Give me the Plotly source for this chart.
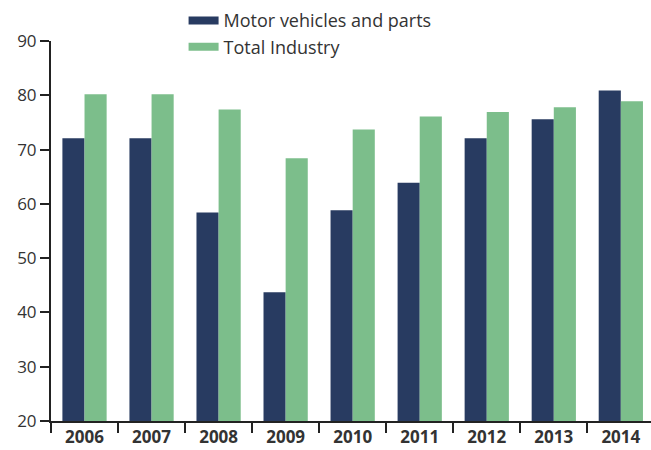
import plotly.graph_objects as go

# Values
years = ["2006", "2007", "2008", "2009", "2010", "2011", "2012", "2013", "2014"]
motor_vehicles = [72.1, 72.1, 58.4, 43.7, 58.8, 63.9, 72.1, 75.6, 80.9]
total_industry = [80.2, 80.2, 77.4, 68.4, 73.7, 76.1, 76.9, 77.8, 78.9]

NAVY = "#283b61"
GREEN = "#7cbe8b"
AXIS = "#222222"
TEXT = "#333333"

fig = go.Figure()

fig.add_trace(go.Bar(x=years, y=motor_vehicles, name="Motor vehicles and parts",
                     marker=dict(color=NAVY, line=dict(width=0)), showlegend=False))
fig.add_trace(go.Bar(x=years, y=total_industry, name="Total Industry",
                     marker=dict(color=GREEN, line=dict(width=0)), showlegend=False))

# legend entries drawn as thick lines to get wide, flat swatches
for name, color in [("Motor vehicles and parts", NAVY), ("Total Industry", GREEN)]:
    fig.add_trace(go.Scatter(x=[None], y=[None], mode="lines", name=name,
                             line=dict(color=color, width=8)))

fig.update_layout(
    width=651, height=450,
    margin=dict(l=51, r=0, t=41, b=29, autoexpand=False),
    paper_bgcolor="white", plot_bgcolor="white",
    barmode="group", bargap=0.34, bargroupgap=0,
    font=dict(family="Open Sans", color=TEXT, size=17),
    legend=dict(x=0.282, y=0.995, xref="container", yref="container",
                xanchor="left", yanchor="top",
                orientation="v", font=dict(size=18, color=TEXT),
                bgcolor="rgba(0,0,0,0)", tracegroupgap=0),
)

fig.update_xaxes(
    range=[-0.5, 8.45], showline=True, linecolor=AXIS, linewidth=2,
    ticks="outside", tickson="boundaries", ticklen=10, tickcolor=AXIS, tickwidth=1.5,
    tickfont=dict(size=17, color=TEXT, family="Open Sans", weight="bold"),
    showgrid=False, zeroline=False, automargin=False,
)
fig.update_yaxes(
    range=[20, 90], dtick=10, showline=True, linecolor=AXIS, linewidth=2,
    ticks="outside", ticklen=9, tickcolor=AXIS, tickwidth=1.5,
    tickfont=dict(size=17, color=TEXT), showgrid=False, zeroline=False,
    automargin=False,
)

# drop the page's default body margin so the figure sits at the window's corner
fig.write_html("out.html", config={"displayModeBar": False},
               post_script="document.body.style.margin='0';")
